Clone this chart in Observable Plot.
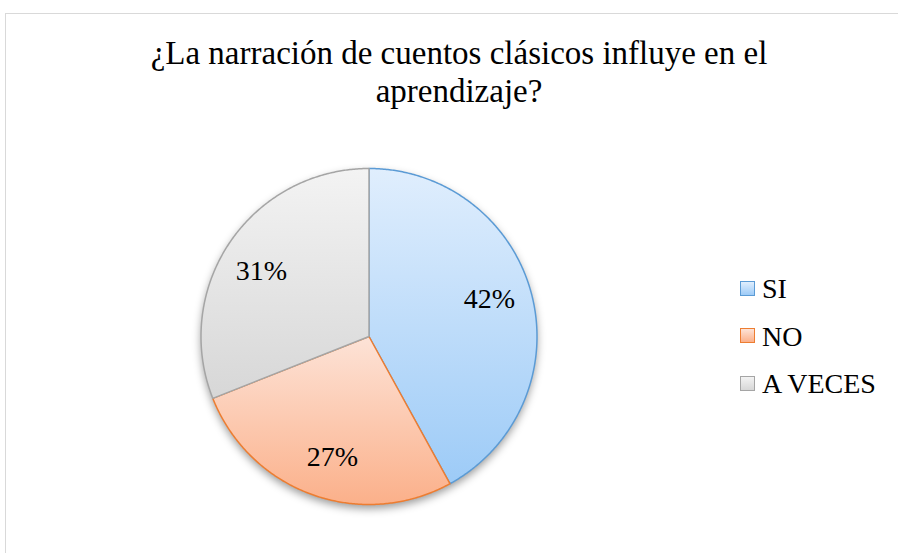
<!DOCTYPE html>
<html>
<head>
<meta charset="utf-8">
<script src="https://cdn.jsdelivr.net/npm/d3@7"></script>
<script src="https://cdn.jsdelivr.net/npm/@observablehq/plot@0.6"></script>
<style>
  html, body { margin: 0; padding: 0; background: #fff; font-family: 'Liberation Serif', Tinos, 'Times New Roman', serif; }
  #wrap { position: relative; width: 898px; height: 553px; overflow: hidden; }
  #border { position: absolute; left: 5px; top: 13px; width: 940px; height: 600px; border: 1px solid #d9d9d9; box-sizing: border-box; }
  #title { position: absolute; left: 10px; width: 898px; top: 34px; text-align: center; font-size: 33px; line-height: 38px; color: #000; }
  #legend { position: absolute; left: 740px; top: 265px; font-size: 28px; color: #000; }
  .item { display: flex; align-items: center; height: 47.5px; line-height: 47.5px; white-space: nowrap; }
  .sw { width: 15px; height: 15px; box-sizing: border-box; border-width: 1.5px; border-style: solid; margin-right: 7px; margin-top: -1px; }
  #chart { position: absolute; left: 0; top: 0; }
</style>
</head>
<body>
<div id="wrap">
  <div id="border"></div>
  <div id="chart"></div>
  <div id="title"></div>
  <div id="legend"></div>
</div>
<script>
const title = ["¿La narración de cuentos clásicos influye en el", "aprendizaje?"];
const categories = ["SI", "NO", "A VECES"];
const values = [42, 27, 31];
const labels = ["42%", "27%", "31%"];
const strokes = ["#5b9bd5", "#ed7d31", "#a5a5a5"];
const gradTop = ["#e0eefd", "#fde3d7", "#f3f3f3"];
const gradBottom = ["#9dcbf7", "#fbb08a", "#d7d7d7"];

const W = 898, H = 553, cx = 368.5, cy = 336, R = 168;

const arcs = d3.pie().sort(null).value(d => d)(values);
function slicePoints(a, i) {
  const pts = [{cat: categories[i], x: 0, y: 0}];
  const n = Math.max(2, Math.ceil((a.endAngle - a.startAngle) / (Math.PI / 360)));
  for (let k = 0; k <= n; k++) {
    const t = a.startAngle + (a.endAngle - a.startAngle) * k / n;
    pts.push({cat: categories[i], x: Math.sin(t), y: Math.cos(t)});
  }
  return pts;
}
const slices = arcs.map(slicePoints);
const labelData = arcs.map((a, i) => {
  const m = (a.startAngle + a.endAngle) / 2 - 0.05;
  return {label: labels[i], x: 0.75 * Math.sin(m), y: 0.75 * Math.cos(m)};
});
const allPts = slices.flat();

const chart = Plot.plot({
  width: W, height: H,
  margin: 0,
  style: {fontFamily: "'Liberation Serif', Tinos, serif", background: "transparent"},
  x: {domain: [-cx / R, (W - cx) / R], axis: null},
  y: {domain: [-(H - cy) / R, cy / R], axis: null},
  marks: [
    Plot.line(allPts, {x: "x", y: "y", z: null, curve: "linear-closed", fill: "#000", fillOpacity: 0.4, stroke: "none", dy: 4}),
    ...slices.map((pts, i) => Plot.line(pts, {x: "x", y: "y", curve: "linear-closed", fill: `url(#g${i})`, stroke: strokes[i], strokeWidth: 1.5, strokeLinejoin: "round"})),
    Plot.text(labelData, {x: "x", y: "y", text: "label", fontSize: 28, fontFamily: "Liberation Serif", fill: "#000"})
  ]
});

// gradients
const ns = "http://www.w3.org/2000/svg";
const defs = document.createElementNS(ns, "defs");
categories.forEach((c, i) => {
  const g = document.createElementNS(ns, "linearGradient");
  g.setAttribute("id", "g" + i);
  g.setAttribute("x1", "0"); g.setAttribute("y1", "0");
  g.setAttribute("x2", "0"); g.setAttribute("y2", "1");
  [[0, gradTop[i]], [1, gradBottom[i]]].forEach(([o, col]) => {
    const s = document.createElementNS(ns, "stop");
    s.setAttribute("offset", o);
    s.setAttribute("stop-color", col);
    g.appendChild(s);
  });
  defs.appendChild(g);
});
chart.insertBefore(defs, chart.firstChild);
const sh = chart.querySelector('g[aria-label="line"]');
if (sh) sh.style.filter = "blur(4px)";
document.getElementById("chart").appendChild(chart);

document.getElementById("title").innerHTML = title.join("<br>");
const legend = document.getElementById("legend");
categories.forEach((c, i) => {
  const item = document.createElement("div");
  item.className = "item";
  const sw = document.createElement("div");
  sw.className = "sw";
  sw.style.borderColor = strokes[i];
  sw.style.background = `linear-gradient(${gradTop[i]}, ${gradBottom[i]})`;
  const t = document.createElement("span");
  t.textContent = c;
  item.appendChild(sw); item.appendChild(t);
  legend.appendChild(item);
});
</script>
</body>
</html>
